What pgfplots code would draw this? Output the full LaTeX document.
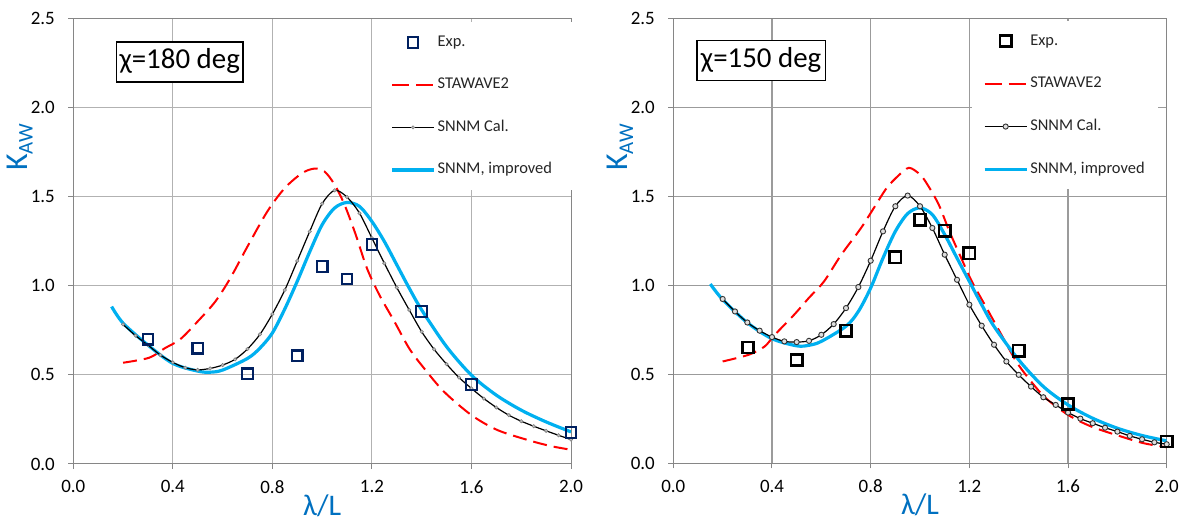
\documentclass[border=0pt]{standalone}
\usepackage{fontspec}
\setmainfont{Carlito}
\usepackage{pgfplots}
\pgfplotsset{compat=1.18}
\definecolor{gridgrayL}{RGB}{178,178,178}
\definecolor{gridgrayR}{RGB}{155,155,155}
\definecolor{axgray}{RGB}{134,134,134}
\definecolor{stared}{RGB}{255,0,0}
\definecolor{snnmblue}{RGB}{0,176,240}
\definecolor{expnavy}{RGB}{0,32,96}
\definecolor{labblue}{RGB}{0,112,192}
\pgfplotsset{
  chartbase/.style={
    scale only axis,
    xmin=0, xmax=2, ymin=0, ymax=2.5,
    xtick={0,0.4,0.8,1.2,1.6,2.0},
    ytick={0,0.5,1.0,1.5,2.0,2.5},
    xticklabels={0.0,0.4,0.8,1.2,1.6,2.0},
    yticklabels={0.0,0.5,1.0,1.5,2.0,2.5},
    xtick pos=bottom, ytick pos=left,
    tick align=outside,
    major tick length=5bp,
    tick style={axgray, line width=1bp},
    axis line style={axgray, line width=1bp},
    grid=major,
    tick label style={font=\fontsize{19}{21}\selectfont, text=black},
    xticklabel style={yshift=-8bp},
    yticklabel style={xshift=-10bp},
    xlabel={λ/L},
    xlabel style={font=\fontsize{30}{31}\selectfont, text=labblue, at={(axis description cs:0.5,-0.093)}, anchor=center},
    ylabel={K\raisebox{-5.5bp}{\fontsize{21}{22}\selectfont AW}},
    ylabel style={font=\fontsize{32}{33}\selectfont, text=labblue, at={(axis description cs:-0.108,0.71)}, rotate=0, anchor=center},
    legend image code/.code={\draw[mark repeat=2,mark phase=2,##1] plot coordinates {(0bp,0bp) (21bp,0bp) (42bp,0bp)};},
    legend cell align=left,
  },
}
\begin{document}
\begin{tikzpicture}[x=1bp,y=1bp]
\useasboundingbox (0,0) rectangle (1184,525);
% ---------------- LEFT ----------------
\begin{axis}[chartbase,
  at={(73.3bp,61bp)}, anchor=south west,
  width=497.7bp, height=445.7bp,
  major grid style={gridgrayL, line width=1bp},
  legend style={at={(axis cs:1.201,2.478)}, anchor=north west, draw=none, fill=white,
    inner xsep=18bp, inner ysep=11bp, row sep=24.5bp,
    font=\fontsize{16.5}{18}\selectfont, text=black!85,
    nodes={inner sep=2bp, text height=11bp, text depth=3bp}},
]
\addlegendimage{only marks, mark=square, mark size=5.3bp, mark options={draw=expnavy, line width=2.2bp, fill=none}}
\addlegendentry{Exp.}
\addlegendimage{stared, line width=2.2bp, dash pattern=on 17bp off 7bp}
\addlegendentry{STAWAVE2}
\addlegendimage{black, line width=1.2bp, mark=*, mark size=1.6bp, mark options={draw=gray, fill=gray!50, line width=0.6bp}}
\addlegendentry{SNNM Cal.}
\addlegendimage{snnmblue, line width=3.3bp}
\addlegendentry{SNNM, improved}
% STAWAVE2
\addplot[stared, line width=2bp, dash pattern=on 14bp off 7bp, smooth, forget plot] coordinates {
(0.2,0.568)(0.305,0.596)(0.366,0.648)(0.43,0.70)(0.50,0.80)(0.57,0.91)(0.63,1.04)(0.70,1.22)(0.78,1.417)(0.85,1.548)(0.92,1.632)(0.97,1.657)(1.01,1.64)(1.05,1.567)(1.09,1.454)(1.135,1.286)(1.18,1.098)(1.23,0.948)(1.29,0.80)(1.35,0.648)(1.41,0.536)(1.49,0.405)(1.60,0.274)(1.705,0.19)(1.83,0.133)(1.92,0.10)(2.0,0.08)};
% SNNM improved
\addplot[snnmblue, line width=3.2bp, smooth, forget plot] coordinates {
(0.154,0.883)(0.2,0.79)(0.3,0.667)(0.4,0.564)(0.5,0.521)(0.55,0.515)(0.6,0.527)(0.7,0.592)(0.75,0.65)(0.8,0.735)(0.85,0.87)(0.9,1.025)(0.95,1.19)(1.0,1.342)(1.05,1.436)(1.1,1.467)(1.15,1.445)(1.2,1.36)(1.25,1.248)(1.3,1.117)(1.35,0.986)(1.4,0.864)(1.5,0.658)(1.6,0.498)(1.7,0.386)(1.8,0.302)(1.9,0.236)(2.0,0.18)};
% SNNM Cal
\addplot[black, line width=1.2bp, smooth, mark=*, mark size=1.7bp, mark options={draw=gray, fill=gray!50, line width=0.6bp}, forget plot] coordinates {
(0.2,0.783)(0.25,0.72)(0.3,0.667)(0.35,0.611)(0.4,0.57)(0.45,0.54)(0.5,0.528)(0.55,0.536)(0.6,0.555)(0.65,0.587)(0.7,0.645)(0.75,0.727)(0.8,0.841)(0.85,0.976)(0.9,1.139)(0.95,1.304)(1.0,1.46)(1.05,1.535)(1.1,1.497)(1.15,1.407)(1.2,1.267)(1.25,1.126)(1.3,0.99)(1.35,0.864)(1.4,0.742)(1.45,0.643)(1.5,0.56)(1.55,0.485)(1.6,0.424)(1.65,0.367)(1.7,0.317)(1.75,0.274)(1.8,0.24)(1.85,0.212)(1.9,0.186)(1.95,0.161)(2.0,0.137)};
% Exp
\addplot[only marks, mark=square, mark size=5.3bp, mark options={draw=expnavy, line width=2.2bp, fill=none}, forget plot] coordinates {
(0.3,0.70)(0.5,0.65)(0.7,0.506)(0.9,0.607)(1.0,1.108)(1.1,1.038)(1.2,1.231)(1.4,0.855)(1.6,0.446)(2.0,0.176)};
\node[draw=black, line width=1.3bp, fill=white, inner xsep=3bp, inner ysep=6bp, text height=21bp, text depth=7bp, font=\fontsize{29}{30}\selectfont] at (axis cs:0.4276,2.255) {χ=180 deg};
\end{axis}
% ---------------- RIGHT ----------------
\begin{axis}[chartbase,
  at={(673.3bp,61.7bp)}, anchor=south west,
  width=493.4bp, height=445bp,
  major grid style={gridgrayR, line width=1.2bp},
  legend style={at={(axis cs:1.21,2.485)}, anchor=north west, draw=none, fill=white,
    inner xsep=11bp, inner ysep=11bp, row sep=24.7bp,
    font=\fontsize{16.5}{18}\selectfont, text=black!85,
    nodes={inner sep=2bp, text height=11bp, text depth=3bp}},
]
\addlegendimage{only marks, mark=square, mark size=5.6bp, mark options={draw=black, line width=2.6bp, fill=none}}
\addlegendentry{Exp.}
\addlegendimage{stared, line width=2.2bp, dash pattern=on 17bp off 7bp}
\addlegendentry{STAWAVE2}
\addlegendimage{black, line width=1.2bp, mark=*, mark size=2.6bp, mark options={draw=black!80, fill=gray!25, line width=0.9bp}}
\addlegendentry{SNNM Cal.}
\addlegendimage{snnmblue, line width=3.3bp}
\addlegendentry{SNNM, improved}
% STAWAVE2
\addplot[stared, line width=2bp, dash pattern=on 14bp off 7bp, smooth, forget plot] coordinates {
(0.2,0.572)(0.306,0.61)(0.37,0.656)(0.41,0.72)(0.49,0.835)(0.55,0.93)(0.61,1.02)(0.68,1.17)(0.76,1.32)(0.82,1.45)(0.865,1.547)(0.91,1.613)(0.955,1.66)(1.0,1.622)(1.03,1.566)(1.076,1.453)(1.12,1.30)(1.167,1.153)(1.21,1.022)(1.27,0.872)(1.33,0.722)(1.39,0.572)(1.45,0.46)(1.51,0.366)(1.60,0.272)(1.695,0.206)(1.816,0.15)(1.906,0.113)(2.0,0.09)};
% SNNM improved
\addplot[snnmblue, line width=3.2bp, smooth, forget plot] coordinates {
(0.15,1.007)(0.2,0.92)(0.3,0.79)(0.4,0.70)(0.5,0.66)(0.55,0.663)(0.6,0.685)(0.7,0.77)(0.75,0.853)(0.8,0.985)(0.85,1.153)(0.9,1.303)(0.95,1.403)(1.0,1.435)(1.05,1.397)(1.1,1.285)(1.15,1.153)(1.2,1.022)(1.25,0.891)(1.3,0.769)(1.4,0.581)(1.5,0.431)(1.6,0.328)(1.7,0.253)(1.8,0.197)(1.9,0.156)(2.0,0.126)};
% SNNM Cal
\addplot[black, line width=1.2bp, smooth, mark=*, mark size=2.6bp, mark options={draw=black!80, fill=gray!25, line width=0.9bp}, forget plot] coordinates {
(0.2,0.923)(0.25,0.853)(0.3,0.791)(0.35,0.745)(0.4,0.709)(0.45,0.685)(0.5,0.681)(0.55,0.688)(0.6,0.722)(0.65,0.782)(0.7,0.872)(0.75,0.99)(0.8,1.138)(0.85,1.303)(0.9,1.444)(0.95,1.504)(1.0,1.444)(1.05,1.322)(1.1,1.172)(1.15,1.031)(1.2,0.891)(1.25,0.773)(1.3,0.666)(1.35,0.572)(1.4,0.497)(1.45,0.431)(1.5,0.371)(1.55,0.328)(1.6,0.285)(1.65,0.251)(1.7,0.225)(1.75,0.20)(1.8,0.178)(1.85,0.154)(1.9,0.135)(1.95,0.118)(2.0,0.107)};
% Exp
\addplot[only marks, mark=square, mark size=5.6bp, mark options={draw=black, line width=2.6bp, fill=none}, forget plot] coordinates {
(0.302,0.651)(0.5,0.58)(0.7,0.745)(0.9,1.157)(1.0,1.369)(1.1,1.307)(1.2,1.18)(1.4,0.632)(1.6,0.332)(2.0,0.122)};
\node[draw=black, line width=1.3bp, fill=white, inner xsep=4bp, inner ysep=6bp, text height=21bp, text depth=7bp, font=\fontsize{29}{30}\selectfont] at (axis cs:0.356,2.261) {χ=150 deg};
\end{axis}
\end{tikzpicture}
\end{document}
